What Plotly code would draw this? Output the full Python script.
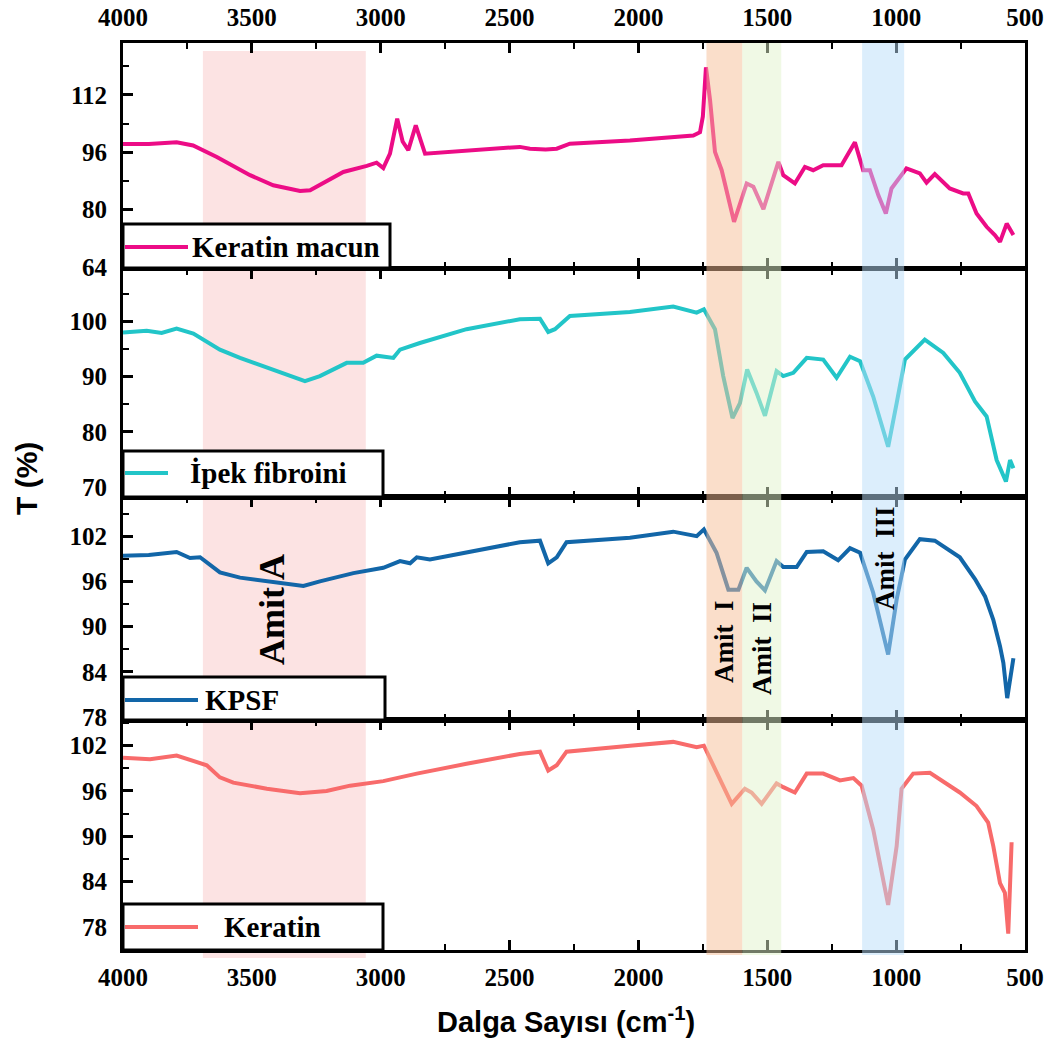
import plotly.graph_objects as go

# ---------------- data ----------------
km_wn = [4000, 3900, 3792, 3728, 3636, 3507, 3417, 3313, 3274, 3145, 3054, 3016, 2990, 2964, 2936, 2915,
         2893, 2864, 2828, 2692, 2460, 2421, 2360, 2317, 2266, 2033, 1787, 1761, 1750, 1738, 1722, 1703,
         1677, 1629, 1580, 1554, 1515, 1457, 1438, 1393, 1354, 1322, 1283, 1212, 1160, 1128, 1102, 1069,
         1040, 1018, 960, 908, 882, 850, 792, 740, 720, 688, 649, 617, 597, 571, 545]
km_t = [98.3, 98.3, 98.8, 97.9, 94.7, 89.6, 86.8, 85.2, 85.4, 90.5, 92.2, 93.1, 91.6, 95.6, 105.4, 99.0,
        96.6, 103.5, 95.6, 96.4, 97.5, 97.0, 96.8, 97.0, 98.4, 99.3, 100.7, 101.6, 106.0, 119.7, 110.5, 96.1,
        91.0, 76.6, 87.3, 86.4, 80.1, 93.3, 89.6, 87.3, 91.9, 91.0, 92.4, 92.4, 98.8, 91.0, 91.0, 84.0,
        78.9, 85.9, 91.5, 90.1, 87.5, 89.9, 85.9, 84.5, 84.5, 78.9, 75.2, 72.9, 71.0, 76.1, 72.9]

ip_wn = [4000, 3908, 3850, 3792, 3727, 3624, 3546, 3442, 3352, 3294, 3236, 3132, 3068, 3016, 2951, 2925,
         2848, 2667, 2460, 2382, 2350, 2324, 2266, 2033, 1865, 1774, 1746, 1703, 1671, 1635, 1606, 1578,
         1542, 1509, 1464, 1438, 1399, 1347, 1283, 1231, 1179, 1140, 1089, 1031, 998, 966, 889, 817,
         753, 694, 649, 610, 574, 558, 545]
ip_t = [98.0, 98.3, 97.9, 98.7, 97.8, 94.9, 93.4, 91.6, 90.1, 89.2, 90.1, 92.5, 92.5, 93.8, 93.4, 94.9,
        96.1, 98.6, 100.4, 100.5, 98.1, 98.6, 101.0, 101.7, 102.7, 101.6, 102.2, 98.6, 90.1, 82.5, 85.2, 91.3,
        87.1, 82.9, 91.0, 90.1, 90.7, 93.4, 93.1, 89.8, 93.6, 92.8, 86.4, 77.3, 85.2, 93.1, 96.7, 94.3,
        90.7, 85.5, 82.8, 74.9, 71.0, 74.9, 73.4]

kpsf_wn = [4000, 3900, 3792, 3740, 3701, 3624, 3546, 3442, 3352, 3300, 3236, 3106, 2990, 2925, 2886, 2860,
           2809, 2667, 2460, 2382, 2350, 2317, 2279, 2033, 1865, 1774, 1746, 1697, 1651, 1612, 1580, 1542,
           1509, 1464, 1438, 1386, 1347, 1283, 1225, 1179, 1140, 1089, 1031, 998, 966, 908, 850, 753,
           694, 655, 623, 597, 584, 569, 558, 545]
kpsf_t = [99.4, 99.5, 99.9, 99.1, 99.2, 97.2, 96.5, 96.0, 95.7, 95.4, 96.0, 97.1, 97.8, 98.7, 98.4, 99.2,
          98.9, 99.8, 101.2, 101.4, 98.4, 99.2, 101.2, 101.8, 102.6, 102.0, 102.9, 99.8, 94.9, 94.9, 97.8, 96.0,
          94.8, 98.7, 97.9, 97.9, 99.9, 100.0, 98.8, 100.4, 99.8, 94.5, 86.3, 93.6, 98.9, 101.6, 101.4, 99.2,
          96.3, 94.0, 90.9, 87.4, 85.2, 80.5, 83.4, 85.8]

ker_wn = [4000, 3895, 3792, 3727, 3675, 3624, 3572, 3442, 3313, 3210, 3119, 2990, 2860, 2667, 2460, 2382,
          2350, 2317, 2279, 2033, 1865, 1774, 1746, 1697, 1638, 1587, 1561, 1522, 1464, 1438, 1393, 1347,
          1283, 1218, 1166, 1134, 1089, 1031, 998, 979, 934, 869, 753, 688, 643, 623, 597, 578, 565, 552]
ker_t = [100.4, 100.2, 100.7, 99.9, 99.4, 97.8, 97.1, 96.3, 95.7, 96.0, 96.7, 97.3, 98.3, 99.6, 100.9, 101.2,
         98.7, 99.4, 101.2, 102.0, 102.5, 101.8, 102.0, 98.5, 94.3, 96.3, 95.8, 94.3, 97.0, 96.5, 95.8, 98.3,
         98.3, 97.4, 97.7, 96.7, 90.9, 80.9, 88.7, 96.3, 98.3, 98.4, 95.8, 94.0, 91.8, 88.7, 83.8, 82.5, 77.1, 89.2]

series_names = ["Keratin macun", "İpek fibroini", "KPSF", "Keratin"]
series_colors = ["#EC0C86", "#22C5C8", "#1266A8", "#F86B6B"]

# band regions (wavenumber)
band_amitA = [3690, 3058]
band_amit1 = [1736, 1597]
band_amit2 = [1597, 1446]
band_amit3 = [1132, 969]

# y-axis settings per panel
y_ranges = [[63.7, 126.5], [68.2, 109.5], [77.6, 107.2], [74.93, 105.4]]
y_tick0 = [64, 70, 78, 78]
y_dtick = [16, 10, 6, 6]
y_minor = [8, 5, 3, 3]

# ---------------- geometry (pixels) ----------------
FW, FH = 1060, 1046
L, R, T, B = 123, 1025, 43, 950
W, H = R - L, B - T


def px(x):
    return (x - L) / W


def py(y):
    return (B - y) / H


panel_px = [(43, 268), (269, 497), (497, 720), (720, 950)]
domains = [[py(b), py(t)] for (t, b) in panel_px]
domains[0][1] = 1.0
domains[3][0] = 0.0

fig = go.Figure()
data = [(km_wn, km_t), (ip_wn, ip_t), (kpsf_wn, kpsf_t), (ker_wn, ker_t)]
for i, (wn, tv) in enumerate(data):
    sfx = "" if i == 0 else str(i + 1)
    fig.add_trace(go.Scatter(x=wn, y=tv, mode="lines", name=series_names[i],
                             line=dict(color=series_colors[i], width=4),
                             xaxis="x" + sfx, yaxis="y" + sfx, showlegend=False))

tickfont = dict(family="Liberation Serif", size=25, color="black", weight="bold")

layout = dict(width=FW, height=FH, margin=dict(l=L, r=FW - R, t=T, b=FH - B, autoexpand=False),
              paper_bgcolor="white", plot_bgcolor="rgba(0,0,0,0)", showlegend=False)

for i in range(4):
    sfx = "" if i == 0 else str(i + 1)
    xa = dict(range=[4000, 500], domain=[0, 1], anchor="y" + sfx, automargin=False,
              showline=True, linewidth=3, linecolor="black", mirror="ticks",
              ticks="inside", ticklen=10, tickwidth=3, tickcolor="black",
              tick0=500, dtick=500, tickmode="linear",
              minor=dict(ticks="inside", ticklen=6, tickwidth=2, dtick=250, tickcolor="black"),
              showgrid=False, zeroline=False, tickfont=tickfont,
              showticklabels=(i == 0 or i == 3), ticklabelstandoff=(4 if i == 0 else 3))
    if i == 0:
        xa["side"] = "top"
    ya = dict(range=y_ranges[i], domain=domains[i], anchor="x" + sfx, automargin=False,
              showline=True, linewidth=3, linecolor="black", mirror=True,
              ticks="inside", ticklen=10, tickwidth=3, tickcolor="black",
              tickmode="linear", tick0=y_tick0[i], dtick=y_dtick[i],
              minor=dict(ticks="inside", ticklen=6, tickwidth=2, dtick=y_minor[i], tickcolor="black"),
              showgrid=False, zeroline=False, tickfont=tickfont, ticklabelstandoff=8)
    layout["xaxis" + sfx] = xa
    layout["yaxis" + sfx] = ya

fig.update_layout(**layout)


def wx(w):
    # wavenumber -> paper x
    return (4000 - w) / 3500


shapes = []
# Amit A band (behind the curves)
shapes.append(dict(type="rect", xref="paper", yref="paper", x0=wx(band_amitA[0]), x1=wx(band_amitA[1]),
                   y0=py(958), y1=py(51), fillcolor="#FCE3E3", line=dict(width=0), layer="below"))
# Amit I, II, III bands (translucent on top)
for band, col in [(band_amit1, "rgba(245,190,150,0.5)"), (band_amit2, "rgba(226,244,204,0.5)"),
                  (band_amit3, "rgba(186,222,250,0.5)")]:
    shapes.append(dict(type="rect", xref="paper", yref="paper", x0=wx(band[0]), x1=wx(band[1]),
                       y0=py(955), y1=py(43), fillcolor=col, line=dict(width=0), layer="above"))

# legend boxes
leg_boxes = [(224, 268, 390), (451, 497, 383), (677, 720, 385), (904, 950, 383)]
leg_lines = [(188, 247), (168, 473), (198, 700), (198, 927)]
leg_text_x = [190, 188, 203, 222]
for i in range(4):
    t, b, r = leg_boxes[i]
    shapes.append(dict(type="rect", xref="paper", yref="paper", x0=px(123), x1=px(r), y0=py(b), y1=py(t),
                       fillcolor="white", line=dict(color="black", width=3), layer="above"))
    xe, yl = leg_lines[i]
    shapes.append(dict(type="line", xref="paper", yref="paper", x0=px(125), x1=px(xe), y0=py(yl), y1=py(yl),
                       line=dict(color=series_colors[i], width=4), layer="above"))

fig.update_layout(shapes=shapes)

serif_b = dict(family="Liberation Serif", color="black", weight="bold")
ann = []
for i in range(4):
    ann.append(dict(xref="paper", yref="paper", x=px(leg_text_x[i]), y=py(leg_lines[i][1]),
                    text=series_names[i], showarrow=False, xanchor="left", yanchor="middle",
                    font=dict(size=29, **serif_b)))

amit_labels = [("Amit A", 272, 610, 36), ("Amit\u00a0 I", 724, 642, 27),
               ("Amit\u00a0 II", 762, 649, 27), ("Amit\u00a0 III", 885, 558, 27)]
for txt, x, y, s in amit_labels:
    ann.append(dict(xref="paper", yref="paper", x=px(x), y=py(y), text=txt, showarrow=False,
                    textangle=-90, xanchor="center", yanchor="middle", font=dict(size=s, **serif_b)))

ann.append(dict(xref="paper", yref="paper", x=px(566), y=py(1020), text="Dalga Sayısı (cm<sup>-1</sup>)",
                showarrow=False, xanchor="center", yanchor="middle",
                font=dict(family="Liberation Sans", size=29, color="black", weight="bold")))
ann.append(dict(xref="paper", yref="paper", x=px(26), y=py(479), text="T (%)", showarrow=False,
                textangle=-90, xanchor="center", yanchor="middle",
                font=dict(family="Liberation Sans", size=30, color="black", weight="bold")))
fig.update_layout(annotations=ann)

fig.write_html("out.html")
